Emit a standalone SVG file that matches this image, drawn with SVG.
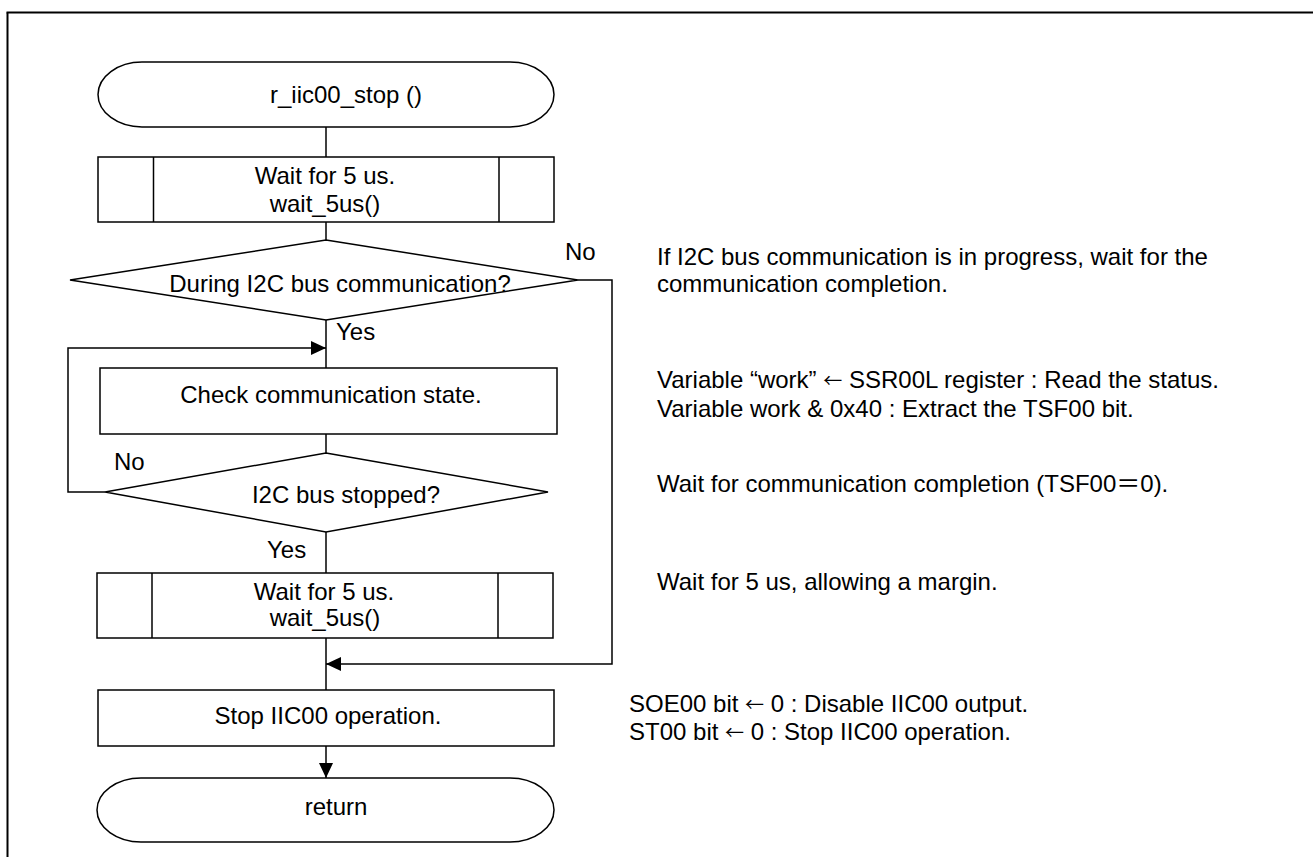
<svg xmlns="http://www.w3.org/2000/svg" width="1313" height="857" viewBox="0 0 1313 857">
<defs>
<style>
.n{fill:#fff;stroke:#000;stroke-width:1.5}
.c{fill:none;stroke:#000;stroke-width:1.5}
.t{font-family:"Liberation Sans",Arial,"Noto Sans CJK JP",sans-serif;font-size:24px;fill:#000}
.m{text-anchor:middle}
.j{font-family:"Noto Sans CJK JP","Liberation Sans",sans-serif;font-size:19px}
</style>
<marker id="ah" markerUnits="userSpaceOnUse" markerWidth="15" markerHeight="14" refX="15" refY="7" orient="auto">
<path d="M0,0 L15,7 L0,14 Z" fill="#000"/>
</marker>
</defs>
<rect x="0" y="0" width="1313" height="857" fill="#fff"/>
<g id="frame">
<line x1="6.5" y1="12.5" x2="1313" y2="12.5" stroke="#000" stroke-width="2"/>
<line x1="7.5" y1="12.5" x2="7.5" y2="857" stroke="#000" stroke-width="2"/>
</g>

<g id="connectors">
<line class="c" x1="326" y1="127" x2="326" y2="157"/>
<line class="c" x1="326" y1="222" x2="326" y2="240"/>
<line class="c" x1="326" y1="320" x2="326" y2="368"/>
<line class="c" x1="326" y1="434" x2="326" y2="453"/>
<line class="c" x1="326" y1="532" x2="326" y2="573"/>
<line class="c" x1="326" y1="638" x2="326" y2="690"/>
<line class="c" x1="326" y1="746" x2="326" y2="778" marker-end="url(#ah)"/>
<polyline class="c" points="105,492 68,492 68,348 326,348" marker-end="url(#ah)"/>
<polyline class="c" points="578,280 612,280 612,664 326,664" marker-end="url(#ah)"/>
<text class="t" x="565" y="260">No</text>
<text class="t" x="336" y="340">Yes</text>
<text class="t" x="114" y="470">No</text>
<text class="t" x="267" y="558">Yes</text>
</g>

<g id="start">
<path class="n" d="M142,62 H510 A44,32.5 0 0 1 510,127 H142 A44,32.5 0 0 1 142,62 Z"/>
<text class="t m" x="346" y="103">r_iic00_stop ()</text>
</g>

<g id="wait1">
<rect class="n" x="98" y="157" width="456" height="65"/>
<line class="c" x1="153.5" y1="157" x2="153.5" y2="222"/>
<line class="c" x1="499" y1="157" x2="499" y2="222"/>
<text class="t m" x="325" y="184">Wait for 5 us.</text>
<text class="t m" x="325" y="212">wait_5us()</text>
</g>

<g id="dec1">
<polygon class="n" points="326,240 578,280 326,320 70,280"/>
<text class="t m" x="340" y="292">During I2C bus communication?</text>
</g>

<g id="check">
<rect class="n" x="100" y="368" width="457" height="66"/>
<text class="t m" x="331" y="403">Check communication state.</text>
</g>

<g id="dec2">
<polygon class="n" points="326,453 548,492 326,532 105,492"/>
<text class="t m" x="346" y="503">I2C bus stopped?</text>
</g>

<g id="wait2">
<rect class="n" x="97" y="573" width="456" height="65"/>
<line class="c" x1="152" y1="573" x2="152" y2="638"/>
<line class="c" x1="498" y1="573" x2="498" y2="638"/>
<text class="t m" x="324" y="600">Wait for 5 us.</text>
<text class="t m" x="325" y="626">wait_5us()</text>
</g>

<g id="stop">
<rect class="n" x="98" y="690" width="456" height="56"/>
<text class="t m" x="328" y="724">Stop IIC00 operation.</text>
</g>

<g id="end">
<path class="n" d="M141,778 H510 A44,32 0 0 1 510,842 H141 A44,32 0 0 1 141,778 Z"/>
<text class="t m" x="336" y="815">return</text>
</g>

<g id="notes">
<text class="t" x="657" y="265">If I2C bus communication is in progress, wait for the</text>
<text class="t" x="657" y="292">communication completion.</text>
<text class="t" x="657" y="388">Variable “work” <tspan class="j">←</tspan> SSR00L register : Read the status.</text>
<text class="t" x="657" y="417">Variable work &amp; 0x40 : Extract the TSF00 bit.</text>
<text class="t" x="657" y="492">Wait for communication completion (TSF00<tspan class="j" style="font-size:24px">＝</tspan>0).</text>
<text class="t" x="657" y="590">Wait for 5 us, allowing a margin.</text>
<text class="t" x="629" y="712">SOE00 bit <tspan class="j">←</tspan> 0 : Disable IIC00 output.</text>
<text class="t" x="629" y="740">ST00 bit <tspan class="j">←</tspan> 0 : Stop IIC00 operation.</text>
</g>
</svg>
